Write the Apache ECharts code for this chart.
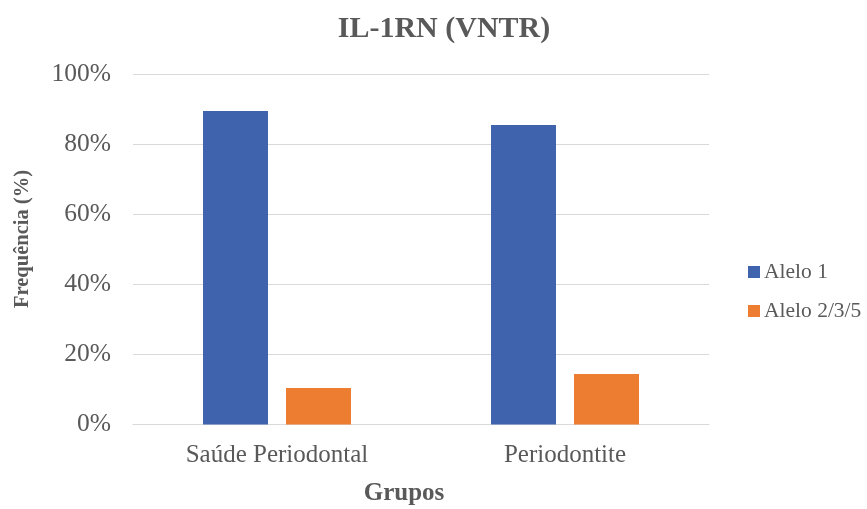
<!DOCTYPE html>
<html>
<head>
<meta charset="utf-8">
<script src="https://cdn.jsdelivr.net/npm/echarts@6/dist/echarts.min.js"></script>
<style>html,body{margin:0;padding:0;background:#fff;}#c{width:867px;height:509px;}</style>
</head>
<body>
<div id="c"></div>
<script>
const categories = ['Saúde Periodontal', 'Periodontite'];
const seriesNames = ['Alelo 1', 'Alelo 2/3/5'];
const alelo1 = [89.6, 85.6];
const alelo235 = [10.4, 14.4];
const yTicks = [0, 20, 40, 60, 80, 100];

const font = '"Liberation Serif", "Times New Roman", serif';
const txt = '#595959';
const chart = echarts.init(document.getElementById('c'), null, {renderer: 'canvas'});
chart.setOption({
  animation: false,
  backgroundColor: '#fff',
  title: {
    text: 'IL-1RN (VNTR)', left: 439, top: 9, textAlign: 'center',
    textStyle: {fontFamily: font, fontSize: 30, fontWeight: 'bold', color: txt}
  },
  legend: {
    orient: 'vertical', left: 748, top: 261, itemGap: 17, padding: 0,
    itemWidth: 12, itemHeight: 12, icon: 'rect',
    textStyle: {fontFamily: font, fontSize: 21.5, color: txt, padding: [0, 0, 0, -1]},
    data: seriesNames
  },
  grid: {left: 133, right: 158, top: 74.5, bottom: 84.5, containLabel: false},
  xAxis: {
    type: 'category', data: categories,
    axisLine: {lineStyle: {color: '#d9d9d9', width: 1}},
    axisTick: {show: false},
    axisLabel: {fontFamily: font, fontSize: 25, color: txt, margin: 18}
  },
  yAxis: {
    type: 'value', min: yTicks[0], max: yTicks[yTicks.length - 1], interval: 20,
    axisLine: {show: false}, axisTick: {show: false},
    axisLabel: {fontFamily: font, fontSize: 25.5, color: txt, margin: 22, formatter: '{value}%'},
    splitLine: {lineStyle: {color: '#d9d9d9', width: 1}}
  },
  graphic: [{
    type: 'text', x: 404, y: 494,
    style: {text: 'Grupos', font: 'bold 25px ' + font, fill: txt, align: 'center', verticalAlign: 'middle'}
  }, {
    type: 'text', x: 23, y: 239, rotation: Math.PI / 2,
    style: {text: 'Frequência (%)', font: 'bold 20.5px ' + font, fill: txt, align: 'center', verticalAlign: 'middle'}
  }],
  series: [
    {name: seriesNames[0], type: 'bar', data: alelo1, barWidth: 65, barGap: '27.7%',
     itemStyle: {color: '#3F64AD'}},
    {name: seriesNames[1], type: 'bar', data: alelo235, barWidth: 65,
     itemStyle: {color: '#ED7D31'}}
  ]
});
</script>
</body>
</html>
